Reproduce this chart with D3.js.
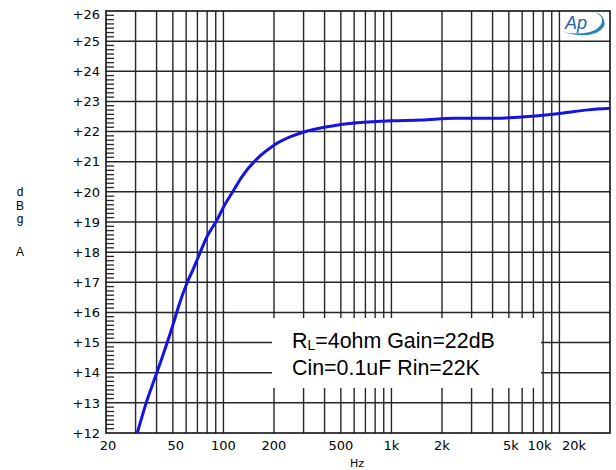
<html>

<head>
    <script src="https://d3js.org/d3.v7.min.js"></script>
    <style>
        body {
            margin: 0;
            background: #fff;
        }
        .tick-label {
            font-family: "DejaVu Sans", sans-serif;
            font-size: 13px;
            fill: #000;
        }
        .legend {
            font-family: "Liberation Sans", Arial, sans-serif;
            font-size: 21.4px;
            fill: #000;
        }
    </style>
</head>

<body>
    <svg id="chart" width="616" height="470"></svg>

    <script>
        const freqHz = [30.7, 34.7, 40, 44, 50.4, 54, 60.6, 66.4, 69.7, 79.8, 91.6, 100.5, 117, 126, 166, 200, 251, 316, 436, 626, 1000, 1500, 2370, 4100, 6200, 10300, 14800, 20000];
        const gainDb = [12, 13, 13.98, 14.64, 15.64, 16.19, 16.97, 17.46, 17.74, 18.51, 19.07, 19.51, 20.12, 20.42, 21.2, 21.55, 21.83, 22.02, 22.18, 22.29, 22.36, 22.38, 22.44, 22.44, 22.49, 22.61, 22.72, 22.77];

        const xTicks = [20, 50, 100, 200, 500, 1000, 2000, 5000, 10000, 20000];
        const xTickLabels = ['20', '50', '100', '200', '500', '1k', '2k', '5k', '10k', '20k'];
        const xLabelShift = [2, 3, 0, 0, 0, 0, 0, 2, -20, -36];
        const xGrid = [30, 40, 50, 60, 70, 80, 90, 100, 200, 300, 400, 500, 600, 700, 800, 900,
            1000, 2000, 3000, 4000, 5000, 6000, 7000, 8000, 9000, 10000];
        const yTicks = [12, 13, 14, 15, 16, 17, 18, 19, 20, 21, 22, 23, 24, 25, 26];
        const yTitle = ['d', 'B', 'g', 'A'];
        const legendLines = ['=4ohm Gain=22dB', 'Cin=0.1uF Rin=22K'];

        const svg = d3.select("#chart");
        const plotL = 106, plotR = 610, plotT = 11, plotB = 433;

        const x = d3.scaleLog().domain([20, 20000]).range([plotL, plotR]);
        const y = d3.scaleLinear().domain([12, 26]).range([plotB, plotT]);

        const gridColor = "#262626";

        // vertical grid
        svg.append("g").selectAll("line")
            .data(xGrid)
            .join("line")
            .attr("x1", d => x(d))
            .attr("x2", d => x(d))
            .attr("y1", plotT)
            .attr("y2", plotB)
            .attr("stroke", gridColor)
            .attr("stroke-width", 1.4);

        // horizontal grid
        svg.append("g").selectAll("line")
            .data(yTicks.slice(1, -1))
            .join("line")
            .attr("x1", plotL)
            .attr("x2", plotR)
            .attr("y1", d => y(d))
            .attr("y2", d => y(d))
            .attr("stroke", gridColor)
            .attr("stroke-width", 1.5);

        // small ticks on the left edge, 7 steps per dB
        let minor = [];
        for (let v = 12; v < 26; v++) {
            for (let k = 1; k < 7; k++) minor.push(v + k / 7);
        }
        svg.append("g").selectAll("line")
            .data(minor)
            .join("line")
            .attr("x1", plotL)
            .attr("x2", plotL + 8)
            .attr("y1", d => y(d))
            .attr("y2", d => y(d))
            .attr("stroke", gridColor)
            .attr("stroke-width", 1.3);

        // frame
        svg.append("rect")
            .attr("x", plotL)
            .attr("y", plotT)
            .attr("width", plotR - plotL)
            .attr("height", plotB - plotT)
            .attr("fill", "none")
            .attr("stroke", "#111")
            .attr("stroke-width", 1.6);

        // legend box hides the grid behind it
        svg.append("rect")
            .attr("x", 272)
            .attr("y", 318)
            .attr("width", 269)
            .attr("height", 70)
            .attr("fill", "#fff");

        const lg = svg.append("text")
            .attr("class", "legend")
            .attr("x", 292)
            .attr("y", 348);
        lg.append("tspan").text("R");
        lg.append("tspan").text("L").attr("font-size", 14).attr("dy", 2);
        lg.append("tspan").text(legendLines[0]).attr("dy", -2);
        svg.append("text")
            .attr("class", "legend")
            .attr("x", 292)
            .attr("y", 375)
            .text(legendLines[1]);

        // curve
        const pts = freqHz.map((f, i) => [f, gainDb[i]]);
        svg.append("path")
            .datum(pts)
            .attr("fill", "none")
            .attr("stroke", "#1414e0")
            .attr("stroke-width", 3)
            .attr("stroke-linejoin", "round")
            .attr("d", d3.line()
                .x(d => x(d[0]))
                .y(d => y(d[1]))
                .curve(d3.curveMonotoneX));

        // y labels
        svg.append("g").selectAll("text")
            .data(yTicks)
            .join("text")
            .attr("class", "tick-label")
            .attr("x", 100)
            .attr("y", d => y(d) + (d == 26 ? 3 : 0))
            .attr("dy", "0.36em")
            .style("text-anchor", "end")
            .text(d => "+" + d);

        // x labels
        svg.append("g").selectAll("text")
            .data(xTicks)
            .join("text")
            .attr("class", "tick-label")
            .attr("x", (d, i) => x(d) + xLabelShift[i])
            .attr("y", 450)
            .style("text-anchor", "middle")
            .text((d, i) => xTickLabels[i]);

        svg.append("text")
            .attr("class", "tick-label")
            .attr("x", 357)
            .attr("y", 467)
            .style("text-anchor", "middle")
            .style("font-size", "11px")
            .text("Hz");

        // y title, stacked letters
        const yTitleY = [196, 210, 223, 256];
        yTitle.forEach((c, i) => {
            svg.append("text")
                .attr("x", 20)
                .attr("y", yTitleY[i])
                .style("font-family", "'Liberation Sans', Arial, sans-serif")
                .style("font-size", "12px")
                .style("text-anchor", "middle")
                .text(c);
        });

        // Ap logo
        const logo = svg.append("g").attr("transform", "translate(562,12)");
        logo.append("path")
            .attr("d", "M2,20 Q20,26 34,21 Q45,16 42,8 Q40,2 33,0 Q41,4 40,10 Q38,17 28,20 Q14,23 2,20 Z")
            .attr("fill", "#2b80bf");
        logo.append("text")
            .attr("x", 3)
            .attr("y", 17)
            .style("font-family", "'Liberation Sans', Arial, sans-serif")
            .style("font-size", "18px")
            .style("font-style", "italic")
            .style("fill", "#1f63a8")
            .text("Ap");
    </script>
</body>

</html>
